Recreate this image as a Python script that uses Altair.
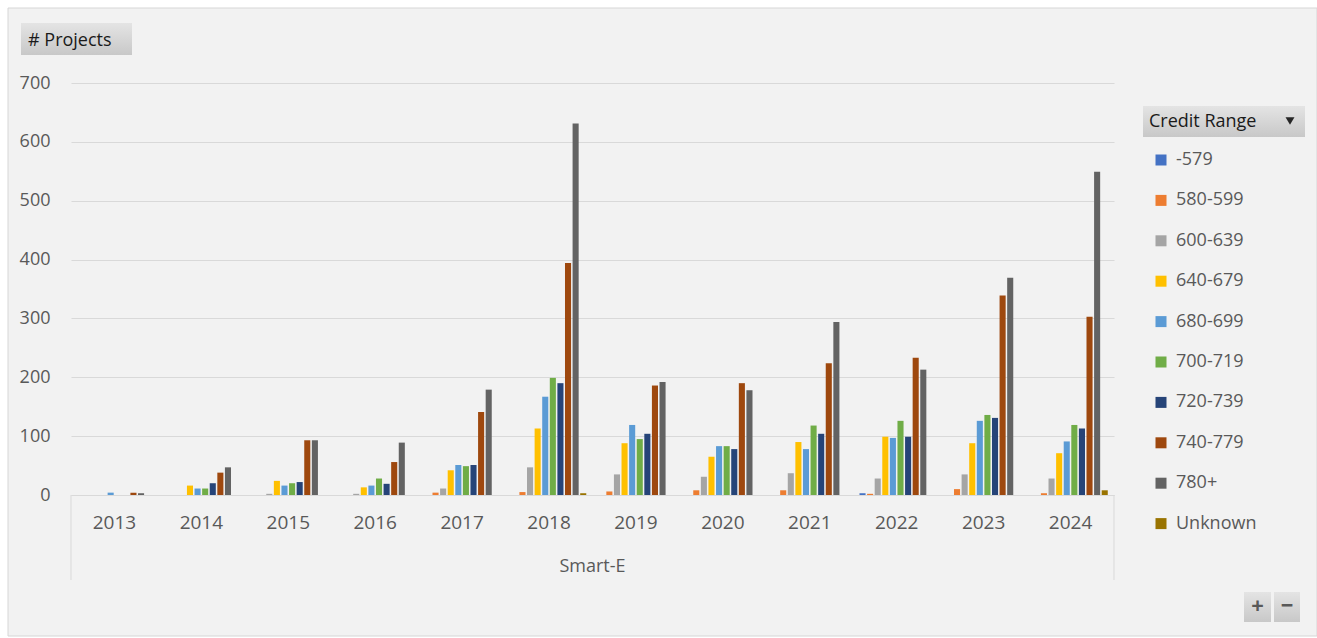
import altair as alt
import pandas as pd

# Smart-E projects per year, split by credit range
years = ["2013", "2014", "2015", "2016", "2017", "2018",
         "2019", "2020", "2021", "2022", "2023", "2024"]

credit_ranges = ["-579", "580-599", "600-639", "640-679", "680-699",
                 "700-719", "720-739", "740-779", "780+", "Unknown"]

range_colors = ["#4472C4", "#ED7D31", "#A5A5A5", "#FFC000", "#5B9BD5",
                "#70AD47", "#264478", "#9E480E", "#636363", "#997300"]

r_579 = [0, 0, 0, 0, 0, 0, 0, 0, 0, 3, 0, 0]
r_580_599 = [0, 0, 0, 0, 4, 5, 6, 8, 8, 2, 10, 3]
r_600_639 = [0, 0, 2, 2, 11, 47, 35, 31, 37, 28, 35, 28]
r_640_679 = [0, 16, 24, 13, 42, 113, 88, 65, 90, 99, 88, 71]
r_680_699 = [4, 11, 16, 16, 51, 167, 119, 83, 78, 97, 126, 91]
r_700_719 = [0, 11, 20, 28, 49, 199, 95, 83, 118, 126, 136, 119]
r_720_739 = [0, 20, 22, 19, 51, 190, 104, 78, 104, 99, 131, 113]
r_740_779 = [4, 38, 93, 56, 141, 394, 186, 190, 224, 233, 339, 303]
r_780_plus = [3, 47, 93, 89, 179, 631, 192, 178, 294, 213, 369, 549]
r_unknown = [0, 0, 0, 0, 0, 3, 0, 0, 0, 0, 0, 8]

y_ticks = [0, 100, 200, 300, 400, 500, 600, 700]

series = [r_579, r_580_599, r_600_639, r_640_679, r_680_699,
          r_700_719, r_720_739, r_740_779, r_780_plus, r_unknown]

rows = []
for name, vals in zip(credit_ranges, series):
    for yr, v in zip(years, vals):
        rows.append({"year": yr, "range": name, "projects": v})
df = pd.DataFrame(rows)

FONT = "Open Sans"
LABEL = "#595959"
W, H = 1043, 412

button_fill = alt.Gradient(
    gradient="linear",
    stops=[alt.GradientStop(color="#e4e4e4", offset=0),
           alt.GradientStop(color="#c8c8c8", offset=1)],
    x1=0, x2=0, y1=0, y2=1,
)

one = pd.DataFrame({"k": [0]})


def box(x0, x1, y0, y1, **mark):
    return alt.Chart(one).mark_rect(**mark).encode(
        x=alt.value(x0), x2=alt.value(x1), y=alt.value(y0), y2=alt.value(y1)
    )


# white page margin around the gray chart area, and its outline
margin_top = box(-71, 1246, -83, -75, fill="white")
margin_left = box(-71, -63, -83, 555, fill="white")
margin_bottom = box(-71, 1246, 553, 555, fill="white")
outline = box(-63, 1246, -75, 553, fill="transparent", stroke="#d6d6d6", strokeWidth=1)

bars = alt.Chart(df).mark_bar().encode(
    x=alt.X("year:N", sort=years,
            scale=alt.Scale(paddingInner=0.126, paddingOuter=0.063),
            axis=alt.Axis(title=None, labelAngle=0, ticks=False, domainColor="#d9d9d9",
                          labelPadding=18, labelFontSize=19, labelColor=LABEL,
                          labelFont=FONT)),
    xOffset=alt.XOffset("range:N", sort=credit_ranges,
                        scale=alt.Scale(paddingInner=0.2, paddingOuter=0.1)),
    y=alt.Y("projects:Q", scale=alt.Scale(domain=[0, 700]),
            axis=alt.Axis(title=None, values=y_ticks, grid=True, gridColor="#d9d9d9",
                          domain=False, ticks=False, labelPadding=21, labelFontSize=18,
                          labelColor=LABEL, labelFont=FONT)),
    color=alt.Color("range:N", sort=credit_ranges,
                    scale=alt.Scale(domain=credit_ranges, range=range_colors),
                    legend=alt.Legend(title=None, orient="none", legendX=1081, legendY=68,
                                      symbolType="square", symbolSize=121,
                                      symbolStrokeWidth=0, labelFontSize=18,
                                      labelColor=LABEL, labelFont=FONT, labelOffset=6,
                                      rowPadding=22.4, padding=0)),
)

# category group label and its divider lines under the year labels
group_label = alt.Chart(pd.DataFrame({"t": ["Smart-E"]})).mark_text(
    font=FONT, fontSize=18, color=LABEL
).encode(text="t:N", x=alt.value(W / 2), y=alt.value(H + 72))

divider_left = alt.Chart(one).mark_rule(color="#d9d9d9", strokeWidth=1).encode(
    x=alt.value(0), y=alt.value(H), y2=alt.value(H + 85))
divider_right = alt.Chart(one).mark_rule(color="#d9d9d9", strokeWidth=1).encode(
    x=alt.value(W), y=alt.value(H), y2=alt.value(H + 85))

# field buttons
proj_btn = box(-50, 61, -60, -28, fill=button_fill)
proj_txt = alt.Chart(pd.DataFrame({"t": ["# Projects"]})).mark_text(
    font=FONT, fontSize=18, color="#1a1a1a", align="left", baseline="middle"
).encode(text="t:N", x=alt.value(-43), y=alt.value(-42))

cr_btn = box(1072, 1234, 23, 54, fill=button_fill)
cr_txt = alt.Chart(pd.DataFrame({"t": ["Credit Range"]})).mark_text(
    font=FONT, fontSize=18, color="#1a1a1a", align="left", baseline="middle"
).encode(text="t:N", x=alt.value(1078), y=alt.value(39))
cr_arrow = alt.Chart(one).mark_point(
    shape="triangle-down", filled=True, size=80, color="#262626", opacity=1
).encode(x=alt.value(1219), y=alt.value(38))

# zoom buttons
zoom_in = box(1173, 1200, 509, 539, fill=button_fill)
zoom_out = box(1203, 1229, 509, 539, fill=button_fill)
zoom_in_txt = alt.Chart(pd.DataFrame({"t": ["+"]})).mark_text(
    font=FONT, fontSize=22, fontWeight="bold", color=LABEL, baseline="middle"
).encode(text="t:N", x=alt.value(1186.5), y=alt.value(523))
zoom_out_txt = alt.Chart(pd.DataFrame({"t": ["−"]})).mark_text(
    font=FONT, fontSize=22, fontWeight="bold", color=LABEL, baseline="middle"
).encode(text="t:N", x=alt.value(1216), y=alt.value(523))

chart = alt.layer(
    margin_top, margin_left, margin_bottom, outline, bars,
    divider_left, divider_right, group_label, proj_btn, proj_txt,
    cr_btn, cr_txt, cr_arrow, zoom_in, zoom_out, zoom_in_txt, zoom_out_txt
).properties(
    width=W, height=H,
    autosize=alt.AutoSizeParams(type="none"),
    padding={"left": 71, "top": 83, "right": 203, "bottom": 143},
    background="#f2f2f2",
).configure_view(stroke=None)

chart.save("out.html", embed_options={"renderer": "svg", "actions": False})
